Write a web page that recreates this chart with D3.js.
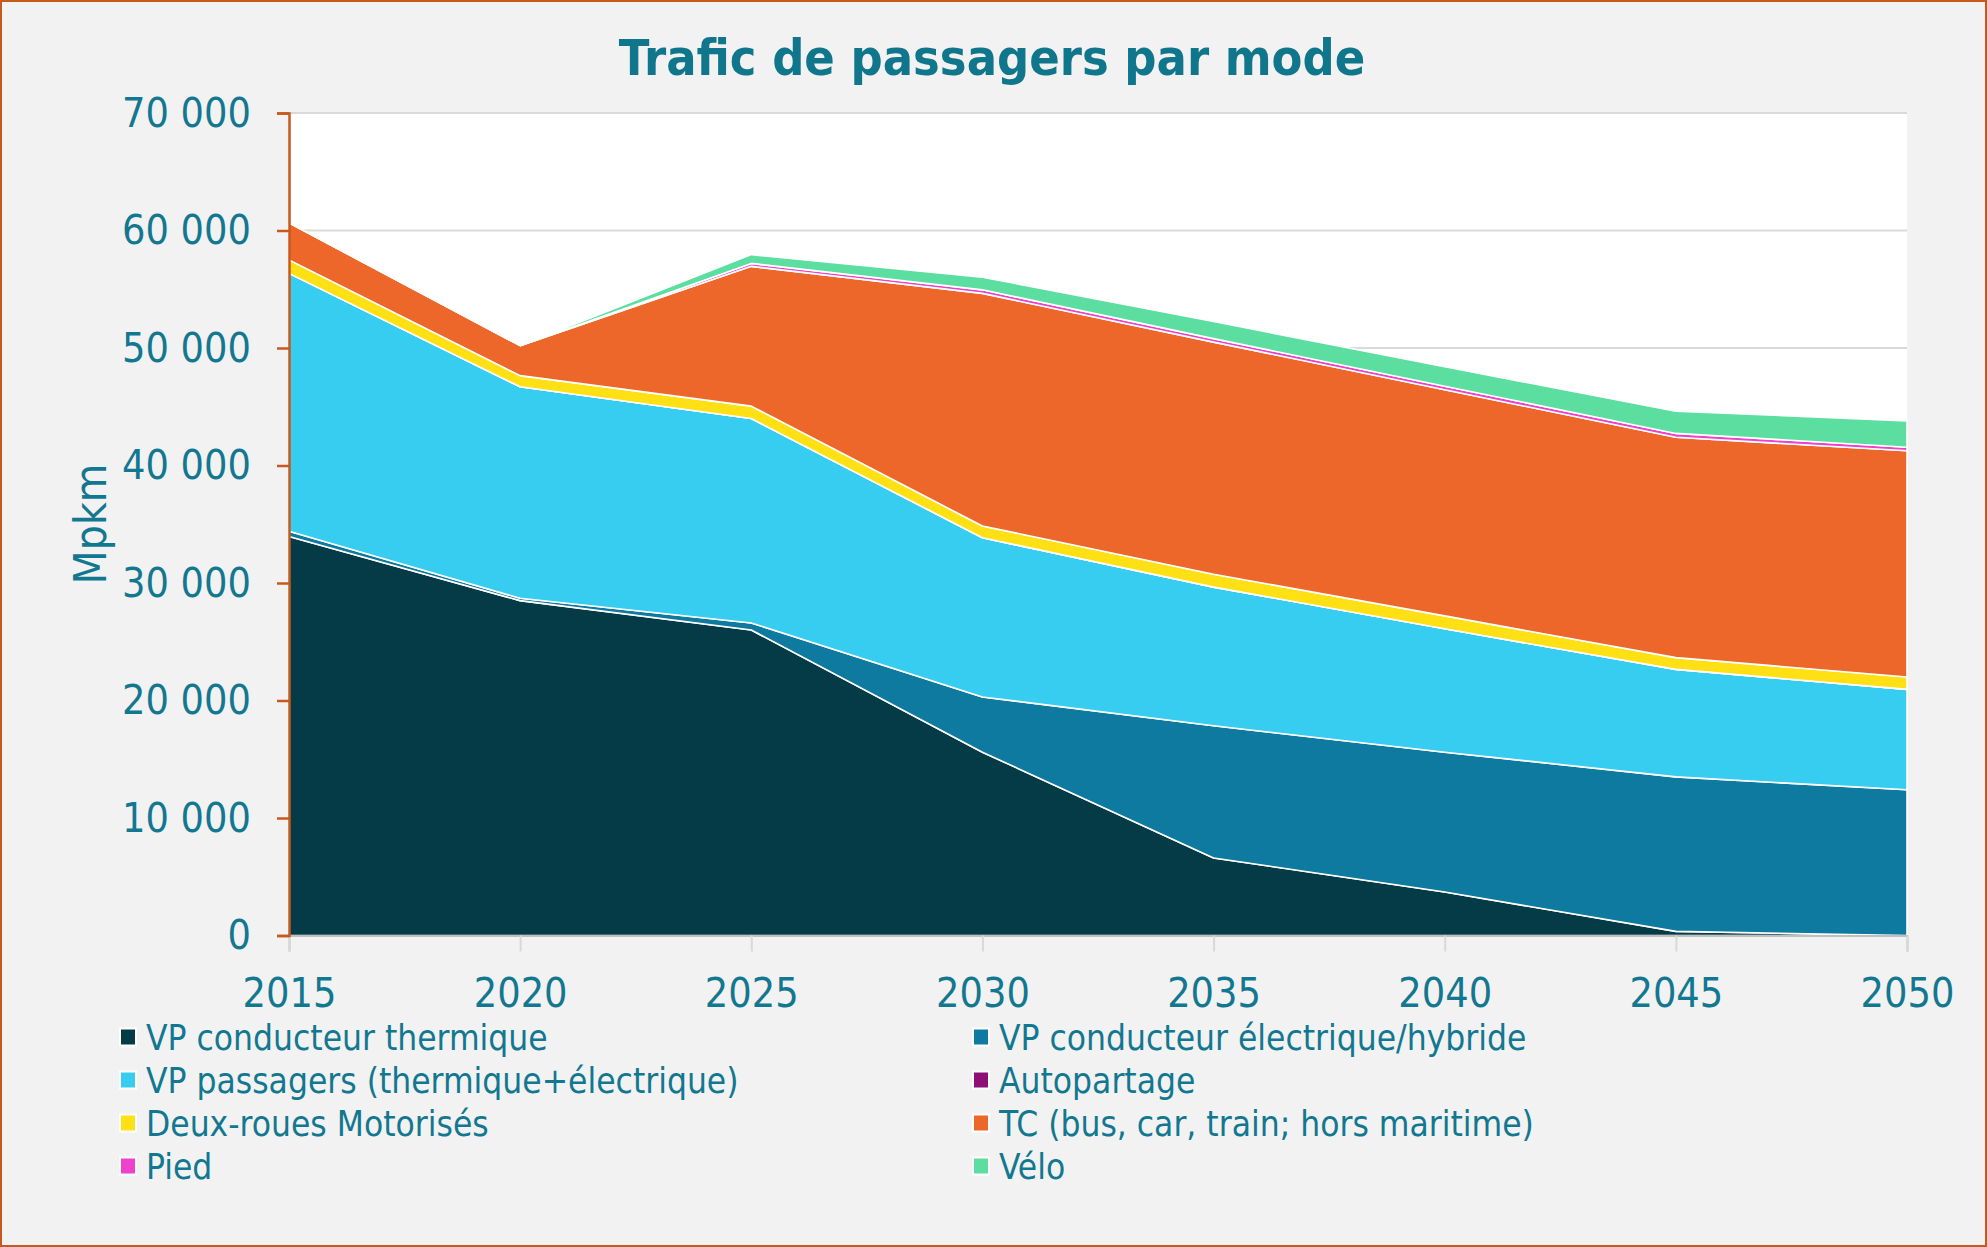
<!DOCTYPE html>
<html>
<head>
<meta charset="utf-8">
<script src="https://cdn.jsdelivr.net/npm/d3@7"></script>
<style>
  html, body { margin: 0; padding: 0; background: #f2f2f2; }
  svg { display: block; }
  text { font-family: 'DejaVu Sans Condensed', 'DejaVu Sans', sans-serif; font-stretch: condensed; fill: #127790; }
</style>
</head>
<body>
<svg id="chart" width="1987" height="1247"></svg>
<script>
// ---- Data ----
const years = [2015, 2020, 2025, 2030, 2035, 2040, 2045, 2050];
const seriesNames = [
  "VP conducteur thermique",
  "VP conducteur électrique/hybride",
  "VP passagers (thermique+électrique)",
  "Autopartage",
  "Deux-roues Motorisés",
  "TC (bus, car, train; hors maritime)",
  "Pied",
  "Vélo"
];
const vpThermique = [33950, 28500, 26000, 15600, 6600, 3700, 350, 0];
const vpElectrique = [450, 200, 600, 4700, 11250, 11900, 13150, 12400];
const vpPassagers = [21950, 18000, 17400, 13550, 11800, 10500, 9150, 8550];
const autopartage = [0, 0, 0, 0, 0, 0, 0, 0];
const deuxRoues = [1150, 950, 1050, 1000, 1100, 1100, 1000, 1050];
const tc = [3150, 2550, 11900, 19800, 19750, 19250, 18750, 19250];
const pied = [0, 0, 250, 300, 300, 300, 330, 300];
const velo = [0, 0, 750, 1080, 1450, 1650, 1900, 2250];
const yTicks = [0, 10000, 20000, 30000, 40000, 50000, 60000, 70000];
const colors = ["#053b47", "#0f7a9f", "#37cdf0", "#8e1273", "#ffe015", "#ec6729", "#ee41cc", "#5bde9f"];

const seriesValues = [vpThermique, vpElectrique, vpPassagers, autopartage, deuxRoues, tc, pied, velo];
const table = years.map((yr, i) => {
  const row = { year: yr };
  seriesNames.forEach((n, k) => row[n] = seriesValues[k][i]);
  return row;
});

// ---- Layout ----
const svg = d3.select("#chart");
const W = 1987, H = 1247;
const L = 289, R = 1907, T = 113, B = 935.5;

svg.append("rect").attr("x", 0).attr("y", 0).attr("width", W).attr("height", H).attr("fill", "#f2f2f2");
svg.append("rect").attr("x", 1).attr("y", 1).attr("width", W - 2).attr("height", H - 2)
  .attr("fill", "none").attr("stroke", "#c65a1e").attr("stroke-width", 2);

const x = d3.scaleLinear().domain([2015, 2050]).range([L, R]);
const y = d3.scaleLinear().domain([0, 70000]).range([B, T]);

// plot background
svg.append("rect").attr("x", L).attr("y", T).attr("width", R - L).attr("height", B - T).attr("fill", "#ffffff");

// gridlines
svg.append("g").selectAll("line").data(yTicks.filter(d => d > 0)).join("line")
  .attr("x1", L).attr("x2", R).attr("y1", d => y(d)).attr("y2", d => y(d))
  .attr("stroke", "#d9d9d9").attr("stroke-width", 2);

// stacked areas
const stack = d3.stack().keys(seriesNames);
const layers = stack(table);
const area = d3.area()
  .x(d => x(d.data.year))
  .y0(d => y(d[0]))
  .y1(d => y(d[1]));

svg.append("g").selectAll("path").data(layers).join("path")
  .attr("d", area)
  .attr("fill", (d, i) => colors[i])
  .attr("stroke", "#ffffff")
  .attr("stroke-width", 1.6)
  .attr("stroke-linejoin", "round");

// x axis
const xAxis = d3.axisBottom(x).tickValues(years).tickFormat(d3.format("d")).tickSize(16).tickPadding(20);
const gx = svg.append("g").attr("transform", `translate(0,${B})`).call(xAxis);
gx.select(".domain").attr("stroke", "#bfbfbf").attr("stroke-width", 2);
gx.selectAll(".tick line").attr("stroke", "#d9d9d9").attr("stroke-width", 2);
gx.selectAll(".tick text").attr("font-size", 41).attr("dy", 0).attr("y", 71)
  .style("fill", "#127790");

// y axis
const fmt = v => d3.format(",")(v).replace(/,/g, " ");
const yAxis = d3.axisLeft(y).tickValues(yTicks).tickFormat(fmt).tickSize(12).tickPadding(26);
const gy = svg.append("g").attr("transform", `translate(${L},0)`).call(yAxis);
gy.select(".domain").attr("stroke", "#c65a1e").attr("stroke-width", 2.5);
gy.selectAll(".tick line").attr("stroke", "#c65a1e").attr("stroke-width", 2.5);
gy.selectAll(".tick text").attr("font-size", 41).style("fill", "#127790");

// axis title
svg.append("text").attr("transform", `translate(106,524) rotate(-90)`)
  .attr("text-anchor", "middle").attr("font-size", 44).text("Mpkm");

// title
svg.append("text").attr("x", 992).attr("y", 75).attr("text-anchor", "middle")
  .attr("font-size", 50).attr("font-weight", "bold").style("fill", "#0f768c")
  .text("Trafic de passagers par mode");

// legend
const legend = svg.append("g");
const colX = [119, 972];
seriesNames.forEach((n, i) => {
  const col = i % 2, row = Math.floor(i / 2);
  const cy = 1037 + row * 43;
  const g = legend.append("g");
  g.append("rect").attr("x", colX[col] + 1).attr("y", cy - 8.5).attr("width", 16).attr("height", 17)
    .attr("fill", colors[i]).attr("stroke", "#ffffff").attr("stroke-width", 2);
  g.append("text").attr("x", colX[col] + 27).attr("y", cy).attr("dy", "0.36em")
    .attr("font-size", 35).text(n);
});
</script>
</body>
</html>
